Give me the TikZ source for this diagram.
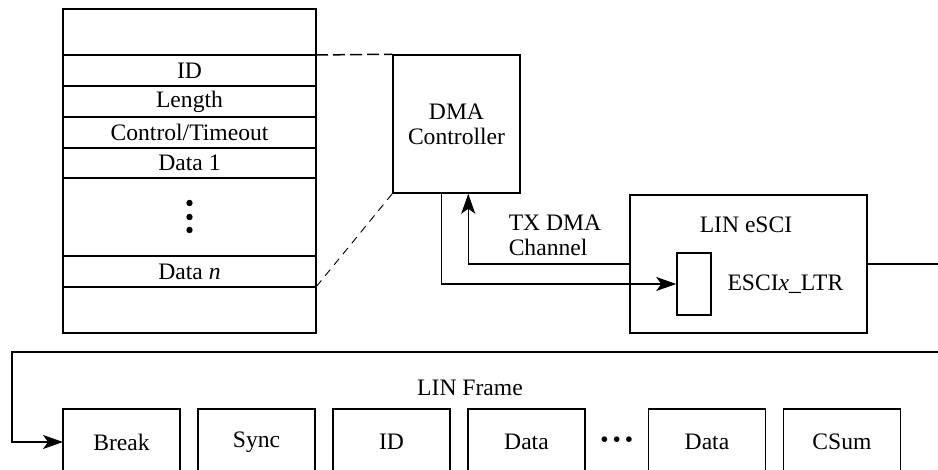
\documentclass[tikz,border=0pt]{standalone}
\usepackage{fontspec}
\setmainfont{Liberation Serif}
\usetikzlibrary{arrows.meta,positioning}

\begin{document}
\begin{tikzpicture}[x=1pt, y=1pt, font=\rmfamily\fontsize{23.6}{25}\selectfont, line width=1.5pt, node distance=0pt,
  cell/.style={draw, minimum width=253pt, minimum height=31pt, inner sep=0pt, outer sep=0pt},
  field/.style={draw, minimum width=117pt, minimum height=66pt, inner sep=0pt, outer sep=0pt},
  arr/.style={-{Stealth[length=20pt, width=14pt, inset=5pt]}}]
  \clip (0,0) rectangle (938,470);
  % message buffer
  \node[cell, minimum height=46pt, anchor=north] (mtop) at (189.5,461) {};
  \node[cell, below=of mtop] (mid) {ID};
  \node[cell, below=of mid] (mlen) {Length};
  \node[cell, below=of mlen] (mctl) {Control/Timeout};
  \node[cell, below=of mctl, minimum height=30pt] (mdat1) {Data 1};
  \node[cell, below=of mdat1, minimum height=78pt] (mdots) {};
  \node[cell, below=of mdots] (mdatn) {Data \textit{n}};
  \node[cell, below=of mdatn, minimum height=46pt] (mbot) {};
  \foreach \dy in {14,0,-13}
    \fill ([yshift=\dy pt]mdots.center) circle (3.2pt);
  % controller and eSCI
  \node[draw, minimum width=127pt, minimum height=138pt, align=center, inner sep=0pt] (dma) at (456.5,346)
    {DMA\\Controller};
  \node[draw, minimum width=237pt, minimum height=138pt, inner sep=0pt] (esci) at (748.5,206) {};
  \node (escilbl) at (746,245) {LIN eSCI};
  \node[draw, minimum width=34pt, minimum height=62pt, inner sep=0pt] (ltr) at (694,186) {};
  \node[right=15pt of ltr, inner sep=0pt] (ltrlbl) {ESCI\textit{x}\_LTR};
  \node[align=left, anchor=west, inner sep=0pt] (txlbl) at (508,235) {TX DMA\\Channel};
  \draw[dash pattern=on 12pt off 5pt] (mid.north east) -- (dma.north west);
  \draw[line width=0.9pt, dash pattern=on 8pt off 6pt] (dma.south west) -- (mdatn.south east);
  \draw[arr] ([xshift=49pt]dma.south west) |- (ltr.west);
  \draw[arr] (esci.west) -| ([xshift=76pt]dma.south west);
  % LIN frame
  \node (frmlbl) at (470,82) {LIN Frame};
  \node[field, anchor=north west] (brk) at (63,61) {Break};
  \node[field, right=18pt of brk] (sync) {Sync};
  \node[field, right=18pt of sync] (fid) {ID};
  \node[field, right=18pt of fid] (dat1) {Data};
  \node[right=of dat1, minimum width=62pt, inner sep=0pt] (gap) {\textbullet\,\textbullet\,\textbullet};
  \node[field, right=of gap] (dat2) {Data};
  \node[field, right=18pt of dat2] (csum) {CSum};
  \coordinate (outA) at (945,206);
  \coordinate (outB) at (945,118);
  \coordinate (loopL) at (12,118);
  \draw (esci.east) -- (esci.east -| outA);
  \draw[arr] (outB) -- (loopL) |- (brk.west);
\end{tikzpicture}
\end{document}
